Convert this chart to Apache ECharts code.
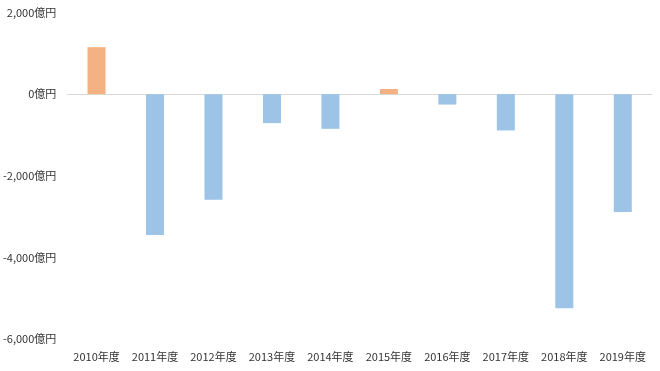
<!DOCTYPE html>
<html>
<head>
<meta charset="utf-8">
<script src="https://cdn.jsdelivr.net/npm/echarts@6/dist/echarts.min.js"></script>
<style>html,body{margin:0;padding:0;background:#fff}#c{width:660px;height:371px}</style>
</head>
<body>
<div id="c"></div>
<script>
const categories = ['2010年度','2011年度','2012年度','2013年度','2014年度','2015年度','2016年度','2017年度','2018年度','2019年度'];
const values = [1150, -3450, -2590, -710, -850, 125, -255, -890, -5245, -2890];
const yTicks = {min: -6000, max: 2000, interval: 2000};
const posColor = '#F4B183';
const negColor = '#9DC3E6';

const chart = echarts.init(document.getElementById('c'), null, {renderer: 'canvas'});
chart.setOption({
  animation: false,
  backgroundColor: '#ffffff',
  grid: {left: 66, right: 8, top: 12.5, bottom: 32, containLabel: false},
  xAxis: {
    type: 'category',
    data: categories,
    axisLine: {onZero: true, lineStyle: {color: '#d9d9d9', width: 1}},
    axisTick: {show: false},
    axisLabel: {
      interval: 0,
      position: 'bottom',
      color: '#333333',
      fontSize: 11,
      fontFamily: 'Noto Sans CJK JP',
      margin: 12
    }
  },
  yAxis: {
    type: 'value',
    min: yTicks.min,
    max: yTicks.max,
    interval: yTicks.interval,
    splitLine: {show: false},
    axisLine: {show: false},
    axisTick: {show: false},
    axisLabel: {
      color: '#333333',
      fontSize: 11,
      fontFamily: 'Noto Sans CJK JP',
      margin: 11,
      formatter: v => v.toLocaleString('en-US') + '億円'
    }
  },
  series: [{
    type: 'bar',
    barWidth: 18,
    data: values.map(v => ({value: v, itemStyle: {color: v >= 0 ? posColor : negColor}}))
  }]
});
</script>
</body>
</html>
